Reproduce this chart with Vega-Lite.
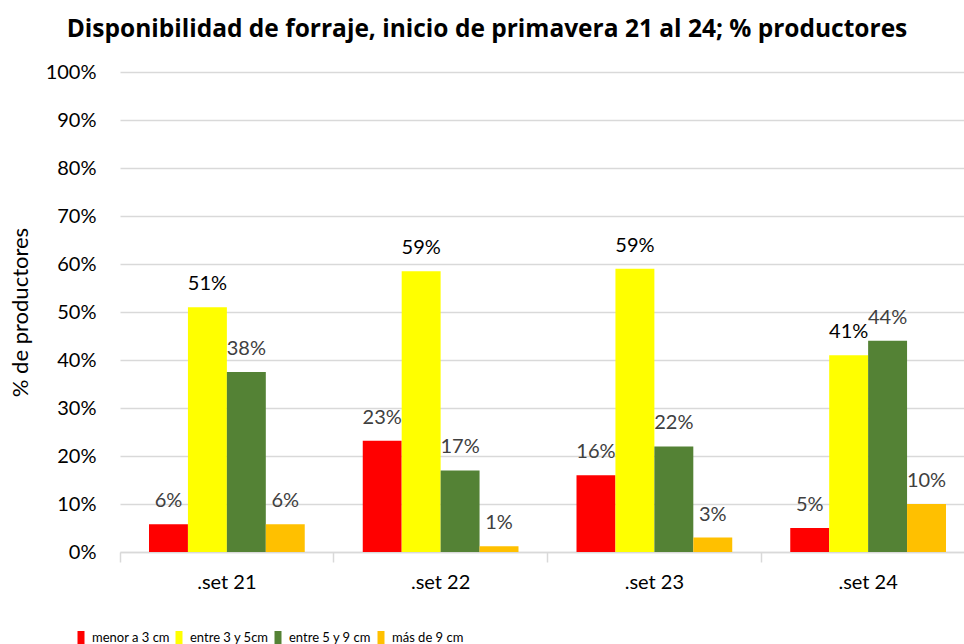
{
  "$schema": "https://vega.github.io/schema/vega-lite/v6.json",
  "autosize": {"type": "none"},
  "padding": {"left": 120, "top": 72, "right": 0, "bottom": 92},
  "width": 844,
  "height": 480,
  "background": "white",
  "config": {"view": {"stroke": null}, "font": "Lato"},
  "title": {
    "text": "Disponibilidad de forraje, inicio de primavera 21 al 24; % productores",
    "font": "Open Sans", "fontSize": 24.5, "fontWeight": "bold", "color": "#000000",
    "anchor": "middle", "dx": -55, "offset": 20
  },
  "data": {"values": [
    {"grupo": ".set 21", "cat": "menor a 3 cm", "v": 5.8, "lab": "6%"},
    {"grupo": ".set 21", "cat": "entre 3 y 5cm", "v": 51, "lab": "51%"},
    {"grupo": ".set 21", "cat": "entre 5 y 9 cm", "v": 37.5, "lab": "38%"},
    {"grupo": ".set 21", "cat": "más de 9 cm", "v": 5.8, "lab": "6%"},
    {"grupo": ".set 22", "cat": "menor a 3 cm", "v": 23.2, "lab": "23%"},
    {"grupo": ".set 22", "cat": "entre 3 y 5cm", "v": 58.5, "lab": "59%"},
    {"grupo": ".set 22", "cat": "entre 5 y 9 cm", "v": 17, "lab": "17%"},
    {"grupo": ".set 22", "cat": "más de 9 cm", "v": 1.2, "lab": "1%"},
    {"grupo": ".set 23", "cat": "menor a 3 cm", "v": 16, "lab": "16%"},
    {"grupo": ".set 23", "cat": "entre 3 y 5cm", "v": 59, "lab": "59%"},
    {"grupo": ".set 23", "cat": "entre 5 y 9 cm", "v": 22, "lab": "22%"},
    {"grupo": ".set 23", "cat": "más de 9 cm", "v": 3, "lab": "3%"},
    {"grupo": ".set 24", "cat": "menor a 3 cm", "v": 5, "lab": "5%"},
    {"grupo": ".set 24", "cat": "entre 3 y 5cm", "v": 41, "lab": "41%"},
    {"grupo": ".set 24", "cat": "entre 5 y 9 cm", "v": 44, "lab": "44%"},
    {"grupo": ".set 24", "cat": "más de 9 cm", "v": 10, "lab": "10%"}
  ]},
  "encoding": {
    "x": {
      "field": "grupo", "type": "nominal", "sort": null,
      "scale": {"range": [0, 855], "paddingInner": 0, "paddingOuter": 0},
      "axis": {
        "title": null, "labelAngle": 0, "labelFontSize": 20, "labelColor": "#000000",
        "labelFont": "Lato", "labelPadding": 10, "bandPosition": 0,
        "domainColor": "#d9d9d9", "domainWidth": 1.5, "tickColor": "#d9d9d9",
        "tickWidth": 1.5, "tickSize": 10, "grid": false
      }
    },
    "xOffset": {
      "field": "cat", "type": "nominal",
      "sort": ["menor a 3 cm", "entre 3 y 5cm", "entre 5 y 9 cm", "más de 9 cm"],
      "scale": {"paddingOuter": 0.745, "paddingInner": 0}
    },
    "y": {
      "field": "v", "type": "quantitative",
      "scale": {"domain": [0, 100], "nice": false},
      "axis": {
        "title": "% de productores", "titleFont": "Lato", "titleFontSize": 22,
        "titleFontWeight": "normal", "titleColor": "#000000",
        "titleX": -100, "titleY": 240, "titleAngle": -90, "titleBaseline": "middle", "titleAlign": "center",
        "values": [0, 10, 20, 30, 40, 50, 60, 70, 80, 90, 100],
        "labelExpr": "datum.value + '%'", "labelFontSize": 20, "labelColor": "#000000",
        "labelFont": "Lato", "labelPadding": 24, "ticks": false, "domain": false,
        "gridColor": "#d9d9d9", "gridWidth": 1.5
      }
    }
  },
  "layer": [
    {
      "mark": {"type": "bar"},
      "encoding": {
        "color": {
          "field": "cat", "type": "nominal",
          "sort": ["menor a 3 cm", "entre 3 y 5cm", "entre 5 y 9 cm", "más de 9 cm"],
          "scale": {
            "domain": ["menor a 3 cm", "entre 3 y 5cm", "entre 5 y 9 cm", "más de 9 cm"],
            "range": ["#ff0000", "#ffff00", "#548235", "#ffc000"]
          },
          "legend": {
            "title": null, "orient": "none", "direction": "horizontal",
            "legendX": -46, "legendY": 559,
            "symbolType": "M-0.5,-1H0.5V1H-0.5Z", "symbolSize": 196,
            "symbolStrokeWidth": 0, "symbolOpacity": 1,
            "labelFont": "Lato", "labelFontSize": 13, "labelColor": "#000000",
            "labelOffset": 4, "columnPadding": 2, "symbolOffset": 0
          }
        }
      }
    },
    {
      "mark": {"type": "text", "baseline": "alphabetic", "dy": -17, "fontSize": 20, "font": "Lato"},
      "encoding": {
        "text": {"field": "lab"},
        "color": {
          "condition": {"test": "datum.cat === 'entre 3 y 5cm'", "value": "#000000"},
          "value": "#404040"
        }
      }
    }
  ]
}
